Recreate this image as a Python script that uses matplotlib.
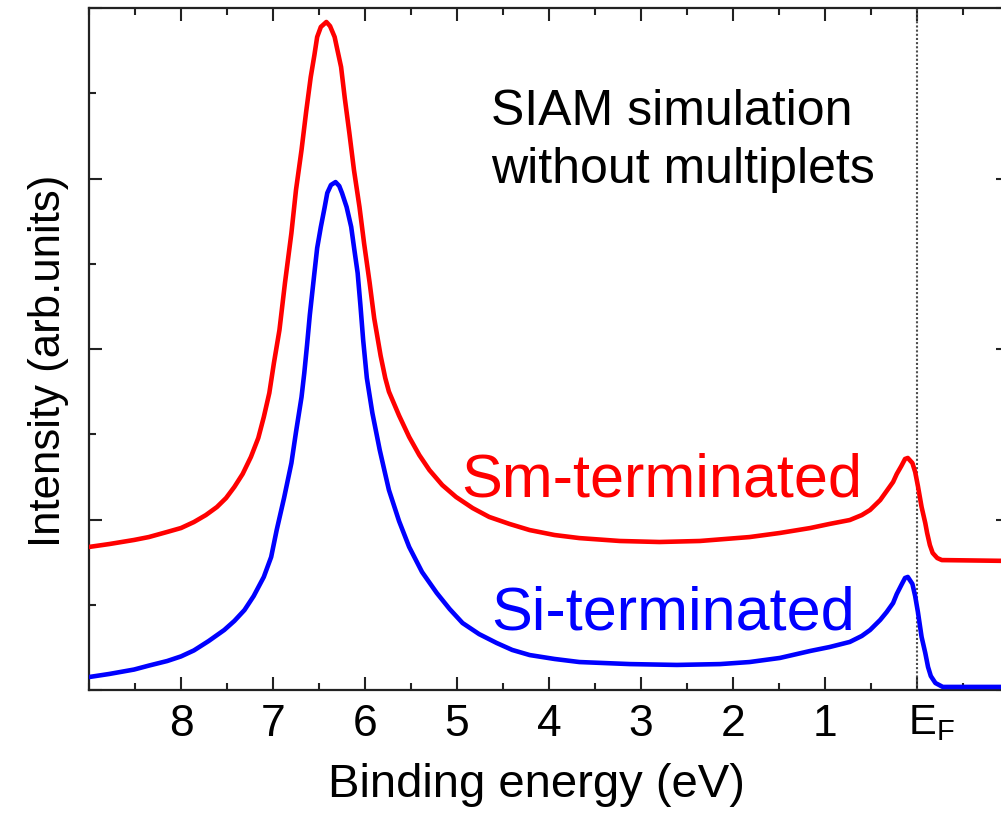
import matplotlib
matplotlib.use("Agg")
import matplotlib.pyplot as plt
from matplotlib.ticker import MultipleLocator, FixedLocator, NullFormatter

plt.rcParams['font.family'] = ['Liberation Sans', 'DejaVu Sans']
plt.rcParams['mathtext.fontset'] = 'custom'
plt.rcParams['mathtext.rm'] = 'Liberation Sans'
plt.rcParams['mathtext.it'] = 'Liberation Sans'

# Sm-terminated surface: binding energy (eV) and intensity (arb. units)
sm_energy = [9.00, 8.78, 8.51, 8.35, 8.15, 8.00, 7.86, 7.73, 7.61, 7.51,
             7.42, 7.33, 7.24, 7.16, 7.10, 7.04, 6.99, 6.93, 6.87, 6.80,
             6.75, 6.69, 6.64, 6.59, 6.55, 6.52, 6.48, 6.42, 6.38, 6.33,
             6.30, 6.26, 6.22, 6.17, 6.12, 6.06, 6.01, 5.95, 5.90, 5.83,
             5.78, 5.74, 5.63, 5.52, 5.41, 5.30, 5.16, 5.01, 4.83, 4.65,
             4.43, 4.21, 3.94, 3.67, 3.23, 2.80, 2.36, 1.82, 1.49, 1.16,
             0.95, 0.73, 0.60, 0.51, 0.40, 0.33, 0.26, 0.22, 0.17, 0.13,
             0.10, 0.05, 0.02, -0.01, -0.05, -0.09, -0.11, -0.14, -0.17, -0.22,
             -0.27, -1.00]
sm_intensity = [0.839, 0.856, 0.880, 0.897, 0.927, 0.950, 0.985, 1.026, 1.073, 1.126,
                1.191, 1.267, 1.367, 1.478, 1.601, 1.742, 1.918, 2.111, 2.387, 2.680,
                2.933, 3.167, 3.390, 3.595, 3.724, 3.830, 3.889, 3.918, 3.894, 3.830,
                3.754, 3.654, 3.472, 3.267, 3.050, 2.833, 2.620, 2.390, 2.180, 1.960,
                1.830, 1.750, 1.610, 1.484, 1.378, 1.290, 1.202, 1.132, 1.067, 1.015,
                0.974, 0.938, 0.909, 0.891, 0.874, 0.868, 0.874, 0.897, 0.921, 0.950,
                0.974, 0.997, 1.026, 1.056, 1.114, 1.167, 1.220, 1.267, 1.314, 1.355,
                1.361, 1.331, 1.279, 1.196, 1.073, 0.979, 0.921, 0.850, 0.804, 0.774,
                0.762, 0.757]

# Si-terminated surface
si_energy = [9.00, 8.78, 8.51, 8.35, 8.15, 8.00, 7.86, 7.70, 7.53, 7.42,
             7.31, 7.21, 7.10, 7.02, 6.96, 6.88, 6.80, 6.75, 6.69, 6.66,
             6.63, 6.60, 6.55, 6.52, 6.48, 6.44, 6.41, 6.37, 6.32, 6.28,
             6.25, 6.20, 6.15, 6.12, 6.08, 6.05, 6.02, 5.98, 5.92, 5.84,
             5.79, 5.74, 5.63, 5.52, 5.38, 5.22, 5.08, 4.94, 4.76, 4.57,
             4.40, 4.21, 3.94, 3.67, 3.12, 2.61, 2.14, 1.82, 1.49, 1.16,
             0.95, 0.73, 0.60, 0.51, 0.40, 0.33, 0.26, 0.22, 0.17, 0.13,
             0.10, 0.05, 0.02, -0.01, -0.05, -0.09, -0.12, -0.15, -0.20, -0.28,
             -1.00]
si_intensity = [0.076, 0.094, 0.120, 0.143, 0.170, 0.197, 0.232, 0.287, 0.352, 0.405,
                0.469, 0.551, 0.663, 0.780, 0.938, 1.126, 1.331, 1.513, 1.718, 1.859,
                2.023, 2.199, 2.446, 2.592, 2.716, 2.827, 2.915, 2.962, 2.979, 2.956,
                2.915, 2.833, 2.716, 2.598, 2.446, 2.258, 2.053, 1.830, 1.625, 1.408,
                1.290, 1.173, 0.991, 0.839, 0.692, 0.569, 0.475, 0.393, 0.328, 0.276,
                0.235, 0.205, 0.182, 0.164, 0.152, 0.147, 0.152, 0.164, 0.188, 0.229,
                0.252, 0.282, 0.317, 0.352, 0.411, 0.457, 0.510, 0.563, 0.616, 0.657,
                0.663, 0.622, 0.551, 0.457, 0.311, 0.217, 0.135, 0.082, 0.041, 0.018,
                0.018]

x_tick_values = [8, 7, 6, 5, 4, 3, 2, 1]
x_tick_labels = ['8', '7', '6', '5', '4', '3', '2', '1']
fermi_label = r'E$_{\mathrm{F}}$'

fig = plt.figure(figsize=(10.01, 8.13), dpi=100)
ax = fig.add_axes([89 / 1001, 123 / 813, 920 / 1001, 682 / 813])

line_style = dict(lw=3.3, solid_joinstyle='round', solid_capstyle='round', zorder=3)
ax.plot(sm_energy, sm_intensity, color='#ff0000', **line_style)
ax.plot(si_energy, si_intensity, color='#0000ff', **line_style)
ax.axvline(0, color='0.3', lw=1.5, ls=(0, (1, 1)), zorder=2)

ax.set_xlim(9, -1)
ax.set_ylim(0, 4)

ax.xaxis.set_major_locator(FixedLocator(x_tick_values + [0]))
ax.set_xticklabels(x_tick_labels + [''])
ax.xaxis.set_minor_locator(MultipleLocator(0.5))
ax.yaxis.set_major_locator(MultipleLocator(1))
ax.yaxis.set_minor_locator(MultipleLocator(0.5))
ax.yaxis.set_major_formatter(NullFormatter())

ax.tick_params(which='both', direction='in', top=True, right=True, width=1.5,
               color='#222222')
ax.tick_params(which='major', length=9.5, labelsize=32, pad=10)
ax.tick_params(which='minor', length=5)
for sp in ax.spines.values():
    sp.set_linewidth(1.6)
    sp.set_color('#222222')

ax.annotate(fermi_label, xy=(0, 0), xycoords='data', xytext=(-9, -13),
            textcoords='offset pixels', ha='left', va='top', fontsize=30)

ax.set_xlabel('Binding energy (eV)', fontsize=34)
ax.xaxis.label.set_va('baseline')
ax.xaxis.set_label_coords(0.486, -0.157)

ax.text(-0.032, 0.482, 'Intensity (arb.units)', transform=ax.transAxes,
        rotation=90, rotation_mode='anchor', ha='center', va='baseline',
        fontsize=31.5)

ax.text(4.63, 3.314, 'SIAM simulation', fontsize=36, ha='left', va='baseline')
ax.text(4.63, 2.974, 'without multiplets', fontsize=36, ha='left', va='baseline')
ax.text(4.95, 1.132, 'Sm-terminated', color='#ff0000', fontsize=44,
        ha='left', va='baseline')
ax.text(4.63, 0.352, 'Si-terminated', color='#0000ff', fontsize=44,
        ha='left', va='baseline')

fig.savefig('out.png', dpi=100)
